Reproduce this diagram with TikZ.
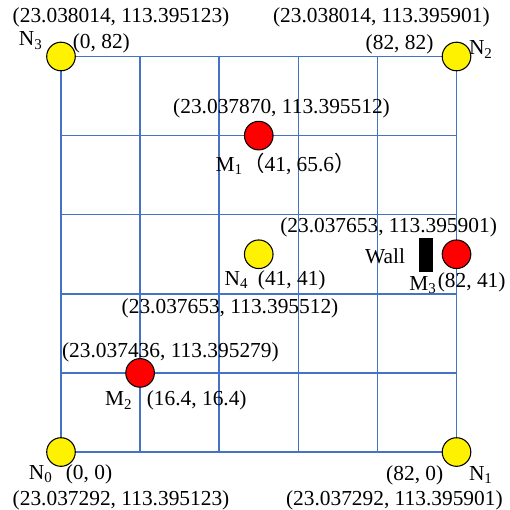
\documentclass[tikz,border=0pt]{standalone}
\usepackage{fontspec}
\setmainfont{Liberation Serif}
\newfontfamily\cjk{Noto Sans CJK SC}
\usepackage{xcolor}
\usetikzlibrary{positioning}

\definecolor{gridblue}{RGB}{68,114,196}

\begin{document}
\begin{tikzpicture}[x=1.3cm,y=1.3cm,
    gridline/.style={draw=gridblue,line width=0.7pt},
    yellowdot/.style={circle,draw=black,line width=0.5pt,fill=yellow,minimum size=0.47cm,inner sep=0pt},
    reddot/.style={circle,draw=black,line width=0.5pt,fill=red,minimum size=0.47cm,inner sep=0pt},
    wallbox/.style={rectangle,fill=black,minimum width=0.225cm,minimum height=0.56cm,inner sep=0pt},
    lab/.style={anchor=base,inner sep=0pt,font=\fontsize{10}{12}\selectfont}]
    \useasboundingbox (-0.771,-0.733) rectangle (5.676,5.714);

    % Grid
    \draw[gridline,step=1.3cm] (0,0) grid (5,5);

    % Anchor nodes
    \node[yellowdot] (N0) at (0,0) {};
    \node[yellowdot] (N1) at (5,0) {};
    \node[yellowdot] (N2) at (5,5) {};
    \node[yellowdot] (N3) at (0,5) {};
    \node[yellowdot] (N4) at (2.5,2.5) {};

    % Measuring points
    \node[reddot] (M1) at (2.5,4) {};
    \node[reddot] (M2) at (1,1) {};
    \node[reddot] (M3) at (5,2.5) {};

    % Wall
    \node[wallbox] (wall) at (4.61,2.494) {};
    \node[lab] (walllab) at (4.096,2.385) {Wall};

    % Labels N3, N2
    \node[lab] (n3gps) at (0.759,5.427) {(23.038014, 113.395123)};
    \node[lab] (n3name) at (-0.38,5.133) {N\textsubscript{3}};
    \node[lab] (n3xy) at (0.51,5.104) {(0, 82)};
    \node[lab] (n2gps) at (4.05,5.427) {(23.038014, 113.395901)};
    \node[lab] (n2xy) at (4.28,5.09) {(82, 82)};
    \node[lab] (n2name) at (5.31,5.019) {N\textsubscript{2}};

    % Labels M1
    \node[lab] (m1gps) at (2.788,4.273) {(23.037870, 113.395512)};
    \node[lab] (m1name) at (2.84,3.544) {M\textsubscript{1}{\cjk （}41, 65.6{\cjk ）}};

    % Labels M3, N4
    \node[lab] (m3gps) at (4.141,2.773) {(23.037653, 113.395901)};
    \node[lab] (m3name) at (4.577,2.048) {M\textsubscript{3}};
    \node[lab] (m3xy) at (5.192,2.082) {(82, 41)};
    \node[lab] (n4name) at (2.22,2.103) {N\textsubscript{4}};
    \node[lab] (n4xy) at (2.917,2.103) {(41, 41)};
    \node[lab] (n4gps) at (2.137,1.753) {(23.037653, 113.395512)};

    % Labels M2
    \node[lab] (m2gps) at (1.383,1.197) {(23.037436, 113.395279)};
    \node[lab] (m2name) at (0.733,0.582) {M\textsubscript{2}};
    \node[lab] (m2xy) at (1.716,0.582) {(16.4, 16.4)};

    % Labels N0, N1
    \node[lab] (n0name) at (-0.253,-0.345) {N\textsubscript{0}};
    \node[lab] (n0xy) at (0.354,-0.345) {(0, 0)};
    \node[lab] (n0gps) at (0.759,-0.67) {(23.037292, 113.395123)};
    \node[lab] (n1xy) at (4.472,-0.354) {(82, 0)};
    \node[lab] (n1name) at (5.31,-0.354) {N\textsubscript{1}};
    \node[lab] (n1gps) at (4.214,-0.67) {(23.037292, 113.395901)};
\end{tikzpicture}
\end{document}
